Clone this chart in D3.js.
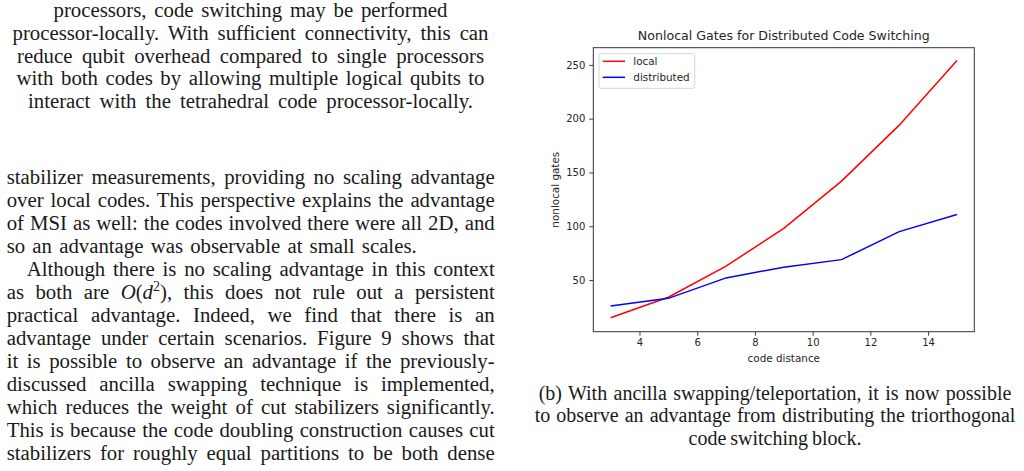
<!DOCTYPE html>
<meta charset="utf-8">
<style>
body { margin: 0; background: #fff; }
.body { font-family: "Liberation Serif", "DejaVu Serif", serif; font-size: 20.8px; fill: #1a1a1a; }
.body.cap { font-size: 20px; }
.chart text { font-family: "DejaVu Sans", sans-serif; fill: #262626; }
</style>
<body>
<script src="https://d3js.org/d3.v7.min.js"></script>
<script>
// chart data
const distance = [3, 5, 7, 9, 11, 13, 15];
const localGates = [15, 34, 63, 98, 142, 194, 254];
const distributedGates = [26, 33, 52, 62, 69, 95, 111];
const xTicks = [4, 6, 8, 10, 12, 14];
const yTicks = [50, 100, 150, 200, 250];
const seriesNames = ["local", "distributed"];
const seriesColors = ["#ff0000", "#0000ff"];

// page text around the figure
const topLines = [
  "processors, code switching may be performed",
  "processor-locally. With sufficient connectivity, this can",
  "reduce qubit overhead compared to single processors",
  "with both codes by allowing multiple logical qubits to",
  "interact with the tetrahedral code processor-locally."
];
const bodyLines = [
  "stabilizer measurements, providing no scaling advantage",
  "over local codes. This perspective explains the advantage",
  "of MSI as well: the codes involved there were all 2D, and",
  "so an advantage was observable at small scales.",
  "Although there is no scaling advantage in this context",
  "as both are O(d^2), this does not rule out a persistent",
  "practical advantage. Indeed, we find that there is an",
  "advantage under certain scenarios. Figure 9 shows that",
  "it is possible to observe an advantage if the previously-",
  "discussed ancilla swapping technique is implemented,",
  "which reduces the weight of cut stabilizers significantly.",
  "This is because the code doubling construction causes cut",
  "stabilizers for roughly equal partitions to be both dense"
];
const captionLines = [
  "(b) With ancilla swapping/teleportation, it is now possible",
  "to observe an advantage from distributing the triorthogonal",
  "code switching block."
];

const width = 1024, height = 471;

const svg = d3.select("body").append("svg")
    .attr("width", width)
    .attr("height", height);

// write a line of text, stretching word gaps so it spans w pixels
function writeLine(g, cls, str, x, y, w, anchor) {
  const t = g.append("text")
      .attr("class", cls)
      .attr("x", x)
      .attr("y", y)
      .attr("text-anchor", anchor);
  const m = str.match(/^(.*)O\(d\^2\)(.*)$/);
  if (m) {
    t.append("tspan").text(m[1]);
    t.append("tspan").attr("font-style", "italic").text("O");
    t.append("tspan").text("(");
    t.append("tspan").attr("font-style", "italic").text("d");
    t.append("tspan").attr("font-size", "14px").attr("dy", -8).text("2");
    t.append("tspan").attr("dy", 8).text(")" + m[2]);
  } else {
    t.text(str);
  }
  const natural = t.node().getComputedTextLength();
  const spaces = (str.match(/ /g) || []).length;
  if (spaces) t.attr("word-spacing", Math.max(-1, (w - natural) / spaces));
}

const page = svg.append("g");

// centred lines at the top
const topWidths = [394, 476, 467, 468, 445];
topLines.forEach((s, i) => writeLine(page, "body", s, 250.5, 16.8 + i * 22.85, topWidths[i], "middle"));

// justified paragraph
bodyLines.forEach((s, i) => {
  let x = 6.7, w = 488;
  if (i === 3) w = 410;
  if (i === 4) { x = 26.7; w = 468; }
  writeLine(page, "body", s, x, 184.2 + i * 22.95, w, "start");
});

// caption
const capWidths = [472.7, 480.7, 168.3];
captionLines.forEach((s, i) => writeLine(page, "body cap", s, 775, 400 + i * 22.3, capWidths[i], "middle"));

// chart
const chart = svg.append("g").attr("class", "chart");
const plotL = 593.3, plotR = 974.3, plotT = 47.7, plotB = 331.7;

const x = d3.scaleLinear().domain([2.4, 15.6]).range([plotL, plotR]);
const y = d3.scaleLinear().domain([2, 266]).range([plotB, plotT]);

const xAxis = chart.append("g")
    .attr("transform", `translate(0,${plotB})`)
    .call(d3.axisBottom(x).tickValues(xTicks).tickSize(4).tickPadding(3.5));
const yAxis = chart.append("g")
    .attr("transform", `translate(${plotL},0)`)
    .call(d3.axisLeft(y).tickValues(yTicks).tickSize(4).tickPadding(4));
[xAxis, yAxis].forEach(a => {
  a.select(".domain").remove();
  a.selectAll(".tick line").attr("stroke", "#262626").attr("stroke-width", 0.9);
  a.selectAll(".tick text").attr("font-size", "10px").attr("fill", "#262626");
});

const line = d3.line()
    .x((d, i) => x(distance[i]))
    .y(d => y(d));

[localGates, distributedGates].forEach((vals, k) => {
  chart.append("path")
      .datum(vals)
      .attr("fill", "none")
      .attr("stroke", seriesColors[k])
      .attr("stroke-width", 1.5)
      .attr("d", line);
});

chart.append("rect")
    .attr("x", plotL).attr("y", plotT)
    .attr("width", plotR - plotL).attr("height", plotB - plotT)
    .attr("fill", "none")
    .attr("stroke", "#333")
    .attr("stroke-width", 1);

chart.append("text")
    .attr("x", (plotL + plotR) / 2)
    .attr("y", 39.5)
    .attr("text-anchor", "middle")
    .attr("font-size", "12.6px")
    .text("Nonlocal Gates for Distributed Code Switching");

chart.append("text")
    .attr("x", (plotL + plotR) / 2)
    .attr("y", 361.5)
    .attr("text-anchor", "middle")
    .attr("font-size", "10.4px")
    .text("code distance");

chart.append("text")
    .attr("transform", `translate(558.5,${(plotT + plotB) / 2}) rotate(-90)`)
    .attr("text-anchor", "middle")
    .attr("font-size", "10.4px")
    .text("nonlocal gates");

// legend
const legend = chart.append("g").attr("transform", "translate(599,53.7)");
legend.append("rect")
    .attr("width", 95.7).attr("height", 34.6)
    .attr("rx", 2)
    .attr("fill", "#fff").attr("fill-opacity", 0.8)
    .attr("stroke", "#d6d6d6").attr("stroke-width", 1);
const item = legend.selectAll("g.item")
    .data(seriesNames)
    .join("g")
    .attr("class", "item")
    .attr("transform", (d, i) => `translate(0,${7.6 + i * 16})`);
item.append("line")
    .attr("x1", 3.7).attr("x2", 26)
    .attr("stroke", (d, i) => seriesColors[i])
    .attr("stroke-width", 1.5);
item.append("text")
    .attr("x", 34.3)
    .attr("dy", "0.35em")
    .attr("font-size", "10.4px")
    .text(d => d);
</script>
</body>
